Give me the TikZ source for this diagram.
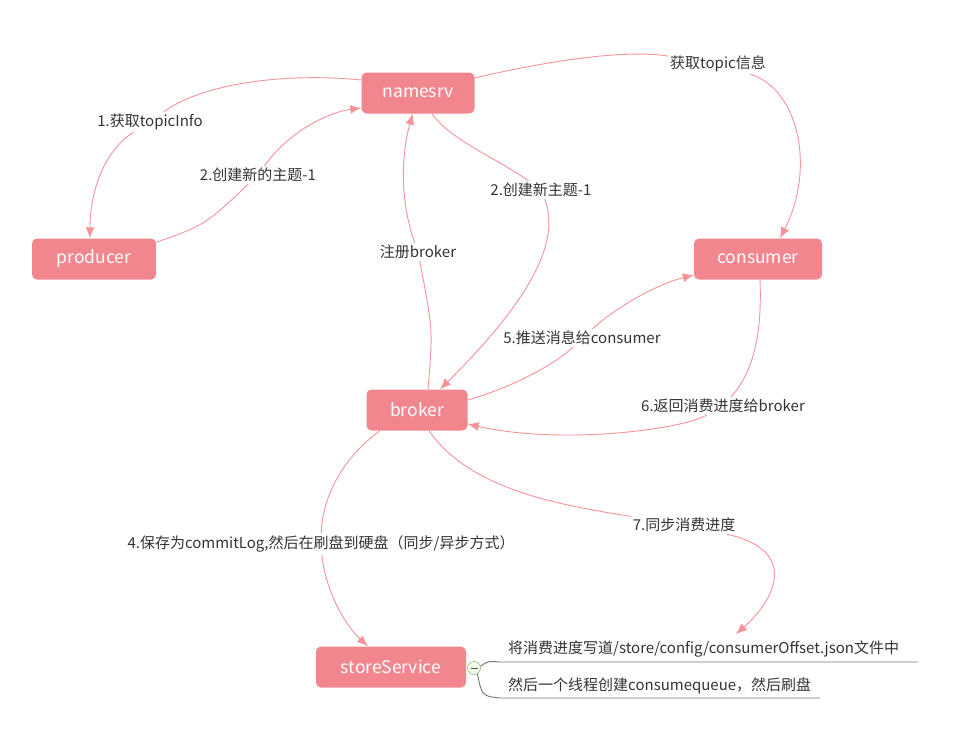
\documentclass[tikz,border=0pt]{standalone}
\usepackage{fontspec}
\newfontfamily\cjk{Noto Sans CJK SC}
\usetikzlibrary{arrows.meta}
\definecolor{rosebox}{HTML}{F2868F}
\definecolor{roseline}{HTML}{F4939A}
\definecolor{labeltext}{HTML}{333333}
\definecolor{togglegreen}{HTML}{6DAA3A}

\begin{document}
\begin{tikzpicture}[x=1pt, y=-1pt,
  box/.style={fill=rosebox, rounded corners=5pt, text=white, inner sep=0pt,
  font=\cjk\fontsize{17.5}{20}\selectfont, minimum height=41pt},
  lbl/.style={font=\cjk\fontsize{15}{17}\selectfont, text=labeltext, inner sep=2pt},
  note/.style={lbl, anchor=west, inner sep=0pt},
  link/.style={draw=roseline, line width=0.9pt},
  arrow/.style={link, -{Latex[length=11pt,width=9pt]}},
  branch/.style={draw=black!55, line width=0.9pt}]
\useasboundingbox (0,0) rectangle (972,739);
% roles
\node[box, minimum width=113pt] (namesrv) at (418,93) {namesrv};
\node[box, minimum width=124pt] (producer) at (94,259) {producer};
\node[box, minimum width=128pt] (consumer) at (758,259) {consumer};
\node[box, minimum width=101pt] (broker) at (417,410) {broker};
\node[box, minimum width=150pt] (store) at (391,667) {storeService};
% edge labels
\node[lbl] (getinfo) at (150,122) {1.获取topicInfo};
\node[lbl] (newtopicp) at (258,175) {2.创建新的主题-1};
\node[lbl] (newtopicb) at (541,190) {2.创建新主题-1};
\node[lbl] (register) at (418,252) {注册broker};
\node[lbl] (push) at (582,338) {5.推送消息给consumer};
\node[lbl] (ack) at (723,406) {6.返回消费进度给broker};
\node[lbl] (gettopic) at (718,64) {获取topic信息};
\node[lbl] (commitlog) at (321,544) {4.保存为commitLog,然后在刷盘到硬盘（同步/异步方式）};
\node[lbl] (syncoff) at (684,525) {7.同步消费进度};
% producer side
\draw[link] ([yshift=13pt]namesrv.west) .. controls (280,72) and (200,85) .. (getinfo);
\draw[arrow] (getinfo) .. controls (105,150) and (90,190) .. ([xshift=-4pt]producer.north);
\draw[link] (producer.15) .. controls (205,225) .. (newtopicp);
\draw[arrow] (newtopicp) .. controls (290,130) and (330,112) .. ([yshift=-15pt]namesrv.west);
\draw[link] ([xshift=14pt]namesrv.south) .. controls (450,140) and (500,160) .. (newtopicb);
\draw[arrow] (newtopicb) .. controls (565,250) and (510,320) .. ([xshift=23pt]broker.north);
\draw[link] ([xshift=11pt]broker.north) .. controls (433,330) .. (register);
\draw[arrow] (register) .. controls (396,190) and (405,140) .. ([xshift=-5pt]namesrv.south);
% consumer side
\draw[link] ([yshift=15pt]namesrv.east) .. controls (560,58) and (630,50) .. (gettopic);
\draw[arrow] (gettopic) .. controls (800,90) and (815,170) .. ([xshift=22pt]consumer.north);
\draw[link] ([yshift=10pt]broker.east) .. controls (520,385) and (560,360) .. (push);
\draw[arrow] (push) .. controls (625,300) and (665,282) .. ([yshift=-16pt]consumer.west);
\draw[link] ([xshift=2pt]consumer.south) .. controls (762,330) and (755,370) .. (ack);
\draw[arrow] (ack) .. controls (680,430) and (560,445) .. ([yshift=-14pt]broker.east);
% storage
\draw[link] ([xshift=-37pt]broker.south) .. controls (340,460) and (322,500) .. (commitlog);
\draw[arrow] (commitlog) .. controls (325,590) and (345,625) .. ([xshift=-23pt]store.north);
\node[circle, draw=togglegreen, fill=togglegreen!8, minimum size=13pt, inner sep=0pt,
  path picture={\draw[togglegreen!60!black, line width=0.8pt]
  ([xshift=-3.5pt]path picture bounding box.center) -- ([xshift=3.5pt]path picture bounding box.center);}]
  (toggle) at (474,668) {};
\node[note] (note1) at (508,649) {将消费进度写道/store/config/consumerOffset.json文件中};
\node[note] (note2) at (508,686) {然后一个线程创建consumequeue，然后刷盘};
\coordinate (rule1) at (918,662);
\coordinate (rule2) at (820,698);
\coordinate (sync) at (736,634);
\draw[branch] (toggle.15) .. controls (488,661) .. (500,662) -- (rule1);
\draw[branch] (toggle.-60) .. controls (482,696) .. (500,698) -- (rule2);
\draw[link] ([xshift=12pt]broker.south) .. controls (470,490) and (560,505) .. (syncoff);
\draw[arrow] (syncoff) .. controls (800,550) and (775,600) .. (sync);
\end{tikzpicture}
\end{document}
